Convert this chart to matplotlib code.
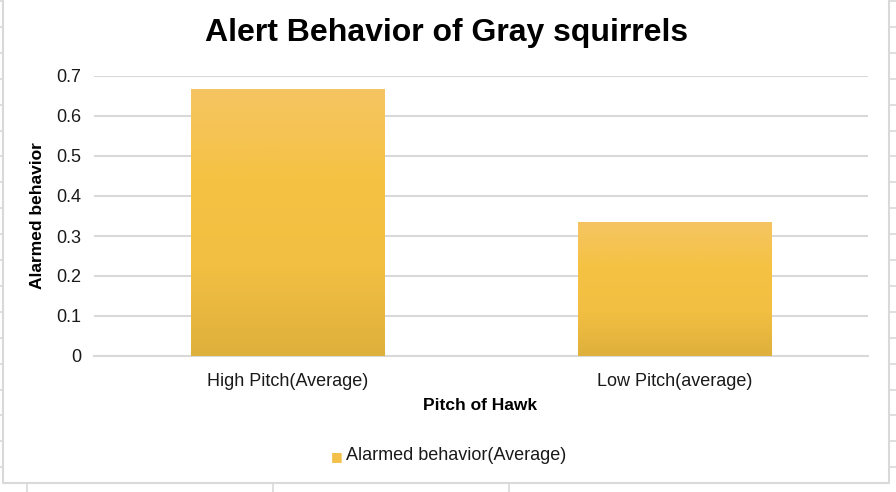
import matplotlib.pyplot as plt
import matplotlib.colors as mcolors
import numpy as np
from matplotlib.lines import Line2D

plt.rcParams['font.family'] = ['Liberation Sans', 'DejaVu Sans']

# Daten
categories = ["High Pitch(Average)", "Low Pitch(average)"]
values = [0.667, 0.333]
series_name = "Alarmed behavior(Average)"
y_ticks = [0, 0.1, 0.2, 0.3, 0.4, 0.5, 0.6, 0.7]

fig = plt.figure(figsize=(8.96, 4.92), dpi=100)
W, H = 896, 492

# Tabellen-Hintergrund (Zellenlinien ausserhalb des Diagramms)
cell_color = "#d9d9d9"
for yy in np.arange(1, 492, 25.9):
    fig.add_artist(Line2D([0, 3 / W], [1 - yy / H] * 2, color=cell_color, lw=1.2))
    fig.add_artist(Line2D([889 / W, 1], [1 - yy / H] * 2, color=cell_color, lw=1.2))
for xx in [27, 273, 509]:
    fig.add_artist(Line2D([xx / W] * 2, [0, 1 - 484 / H], color=cell_color, lw=1.2))
# Rahmen des Diagramms
fig.add_artist(Line2D([3 / W, 3 / W, 889 / W, 889 / W],
                      [1, 1 - 483 / H, 1 - 483 / H, 1], color=cell_color, lw=1.5))

ax = fig.add_axes([94 / W, 1 - 356 / H, (868 - 94) / W, (356 - 76) / H])
x = np.arange(len(categories))
bars = ax.bar(x, values, width=0.5, color="none", zorder=3)

# Farbverlauf pro Balken
cmap = mcolors.LinearSegmentedColormap.from_list(
    "gold", ["#DEB03C", "#F2BF42", "#F5C244", "#F5C562"])
grad = np.linspace(0, 1, 256).reshape(-1, 1)
for b in bars:
    x0, w, h = b.get_x(), b.get_width(), b.get_height()
    ax.imshow(grad, cmap=cmap, origin="lower", aspect="auto",
              extent=[x0, x0 + w, 0, h], zorder=3)

ax.set_xlim(-0.5, len(categories) - 0.5)
ax.set_ylim(0, 0.7)
ax.set_yticks(y_ticks)
ax.set_yticklabels([f"{t:g}" for t in y_ticks], fontsize=13, color="#1a1a1a")
ax.set_xticks(x)
ax.set_xticklabels(categories, fontsize=13, color="#1a1a1a")
ax.tick_params(length=0, pad=9)
ax.tick_params(axis="x", pad=12)
ax.yaxis.grid(True, color=cell_color, lw=1.5, zorder=0)
ax.set_axisbelow(True)
for s in ["top", "right", "left"]:
    ax.spines[s].set_visible(False)
ax.spines["bottom"].set_color(cell_color)
ax.spines["bottom"].set_linewidth(1.5)

fig.text(447 / W, 1 - 33 / H, "Alert Behavior of Gray squirrels",
         fontsize=23, fontweight="bold", ha="center", va="center")
fig.text(37 / W, 1 - 216 / H, "Alarmed behavior", fontsize=12.5,
         fontweight="bold", rotation=90, ha="center", va="center")
fig.text(480 / W, 1 - 405 / H, "Pitch of Hawk", fontsize=12.5,
         fontweight="bold", ha="center", va="center")

# Legende
fig.text(337 / W, 1 - 457 / H, "\u25A0", fontsize=9, color="#F3C04A",
         ha="center", va="center", family=["DejaVu Sans"])
fig.text(346 / W, 1 - 456 / H, series_name, fontsize=13,
         ha="left", va="center", color="#1a1a1a")

fig.savefig("out.png", dpi=100)
